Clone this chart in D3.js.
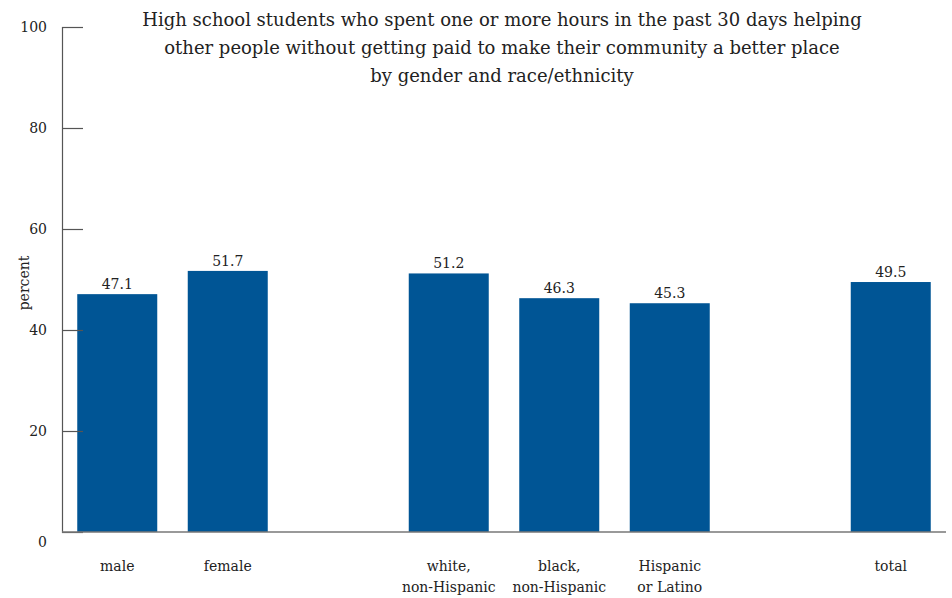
<!DOCTYPE html>
<html><head><meta charset="utf-8">
<script src="https://cdn.jsdelivr.net/npm/d3@7"></script>
<style>body{margin:0;background:#fff}</style>
</head><body><svg id="c" width="952" height="598"></svg>
<script>
const categories = ["male","female","_gap1","white","black","hispanic","_gap2","total"];
const categoryLabels = [["male"],["female"],[],["white,","non-Hispanic"],["black,","non-Hispanic"],["Hispanic","or Latino"],[],["total"]];
const values = [47.1, 51.7, null, 51.2, 46.3, 45.3, null, 49.5];
const yTicks = [0,20,40,60,80,100];
const titleLines = ["High school students who spent one or more hours in the past 30 days helping","other people without getting paid to make their community a better place","by gender and race/ethnicity"];

const FONT = "'DejaVu Serif', serif";
const svg = d3.select("#c").attr("font-family",FONT);
const x = d3.scaleBand().domain(categories).range([62,946]).paddingInner(0.276).paddingOuter(0.138);
const y = d3.scaleLinear().domain([0,100]).range([532,27]);
const color = "#005595";
const txt = "#222";

const data = categories.map((c,i)=>({c, v:values[i], lab:categoryLabels[i]}));
svg.append("g").selectAll("rect").data(data.filter(d=>d.v!=null)).join("rect")
  .attr("x",d=>x(d.c)).attr("width",x.bandwidth())
  .attr("y",d=>y(d.v)).attr("height",d=>y(0)-y(d.v)).attr("fill",color);

svg.append("g").selectAll("text").data(data.filter(d=>d.v!=null)).join("text")
  .attr("x",d=>x(d.c)+x.bandwidth()/2).attr("y",d=>y(d.v)-5)
  .attr("text-anchor","middle").attr("font-size",14).attr("fill",txt).attr("font-family",FONT).text(d=>d.v.toFixed(1));

const ya = d3.axisRight(y).tickValues(yTicks).tickSize(21).tickFormat("");
const yg = svg.append("g").attr("transform","translate(62,0)").call(ya);
yg.select(".domain").attr("stroke","#555").attr("stroke-width",1.2);
yg.selectAll(".tick line").attr("stroke","#555").attr("stroke-width",1.2);
svg.append("g").selectAll("text").data(yTicks).join("text")
  .attr("x",47).attr("y",d=>y(d)+(d===0?10:0)).attr("dy","0.35em")
  .attr("text-anchor","end").attr("font-size",14).attr("fill",txt).attr("font-family",FONT).text(d=>d);

svg.append("line").attr("x1",62).attr("x2",946).attr("y1",y(0)).attr("y2",y(0))
  .attr("stroke","#777").attr("stroke-width",1.5);

const cl = svg.append("g").selectAll("text").data(data.filter(d=>d.lab.length)).join("text")
  .attr("x",d=>x(d.c)+x.bandwidth()/2).attr("y",571)
  .attr("text-anchor","middle").attr("font-size",14).attr("fill",txt).attr("font-family",FONT);
cl.selectAll("tspan").data(d=>d.lab.map(t=>({t,x:x(d.c)+x.bandwidth()/2}))).join("tspan")
  .attr("x",t=>t.x).attr("dy",(t,i)=>i?"1.5em":0).text(t=>t.t);

svg.append("text").attr("transform","translate(29,283) rotate(-90)")
  .attr("text-anchor","middle").attr("font-size",14).attr("fill",txt).attr("font-family",FONT).text("percent");

svg.append("g").selectAll("text").data(titleLines).join("text")
  .attr("x",502).attr("y",(d,i)=>26+i*28).attr("text-anchor","middle")
  .attr("font-size",18).attr("fill",txt).attr("font-family",FONT).text(d=>d);
</script></body></html>
